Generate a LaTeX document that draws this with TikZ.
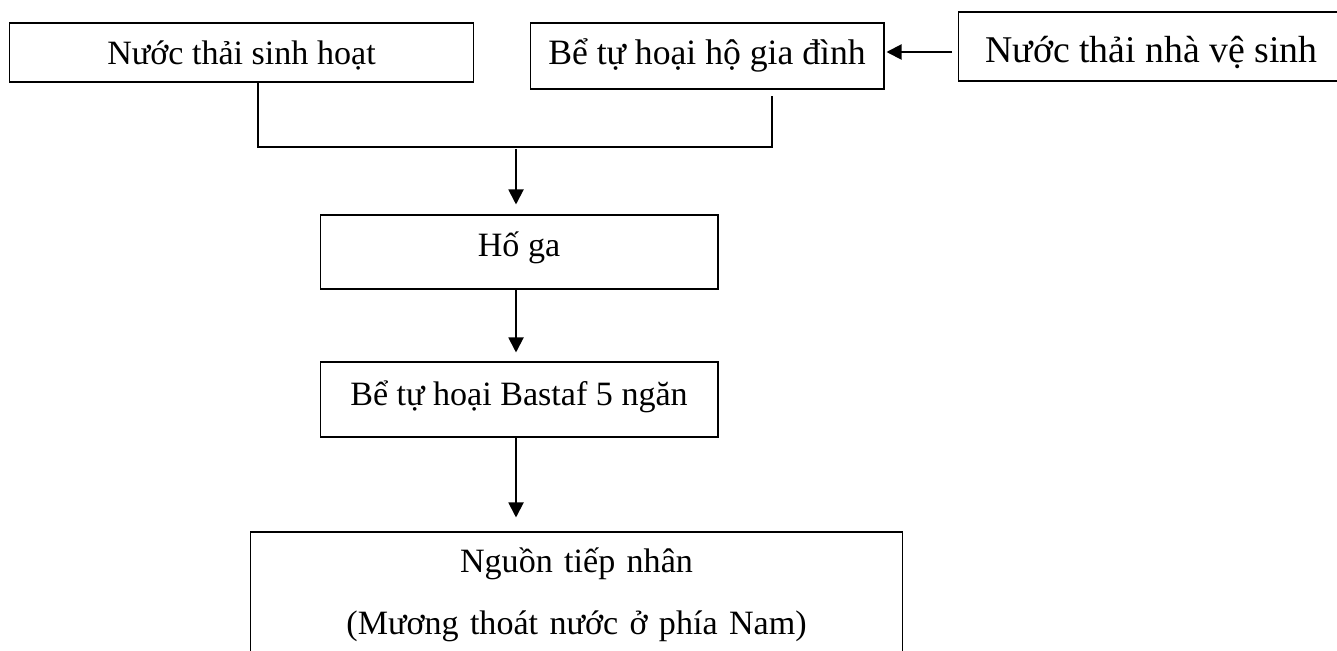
\documentclass[tikz,border=0pt]{standalone}
\usepackage{fontspec}
\setmainfont{Liberation Serif}
\usetikzlibrary{arrows.meta}

\tikzset{
    procbox/.style={draw, line width=0.6pt, inner sep=0pt, anchor=base,
        font=\fontsize{19.4}{35.8}\selectfont},
    flow/.style={-{Triangle[length=3mm, width=3mm]}, line width=1.1pt},
    joinline/.style={line width=0.6pt}
}

\begin{document}
\begin{tikzpicture}[x=0.02cm, y=-0.02cm]
        \useasboundingbox (0,0) rectangle (1337,651);
        \clip (0,0) rectangle (1337,651);

        \node[procbox, minimum width=93mm, text height=8.4mm, text depth=3.4mm] (sinhhoat) at (241.5,65) {Nước thải sinh hoạt};
        \node[procbox, minimum width=70.8mm, text height=8.4mm, text depth=4.8mm,
            font=\fontsize{20.3}{24}\selectfont] (hogiadinh) at (707,65) {Bể tự hoại hộ gia đình};
        \node[procbox, minimum width=77.4mm, text height=10.2mm, text depth=3.6mm,
            font=\fontsize{21.5}{26}\selectfont] (vesinh) at (1151.5,63) {Nước thải nhà vệ sinh};

        \node[procbox, minimum width=79.6mm, text height=8.4mm, text depth=6.4mm] (hoga) at (519,257) {Hố ga};
        \node[procbox, minimum width=79.6mm, text height=8.6mm, text depth=6.4mm] (bastaf) at (519,405) {Bể tự hoại Bastaf 5 ngăn};
        \node[procbox, text width=130.6mm, align=center, text height=8mm, text depth=26mm] (tiepnhan) at (576.5,572)
            {Nguồn tiếp nhân\\(Mương thoát nước ở phía Nam)};

        \coordinate (gopA) at (258,147);
        \coordinate (gopB) at (772,147);
        \coordinate (gopBtop) at (772,96);
        \coordinate (gop) at (516,149);
        \coordinate (vao) at (952,52);

        \draw[joinline] (gopA |- sinhhoat.south) -- (gopA) -- (gopB) -- (gopBtop);

        \draw[flow, shorten >=0.4mm] (vao) -- (vao -| hogiadinh.east);
        \draw[flow, shorten >=2mm] (gop) -- (gop |- hoga.north);
        \draw[flow, shorten >=1.8mm] (gop |- hoga.south) -- (gop |- bastaf.north);
        \draw[flow, shorten >=2.8mm] (gop |- bastaf.south) -- (gop |- tiepnhan.north);
\end{tikzpicture}
\end{document}
